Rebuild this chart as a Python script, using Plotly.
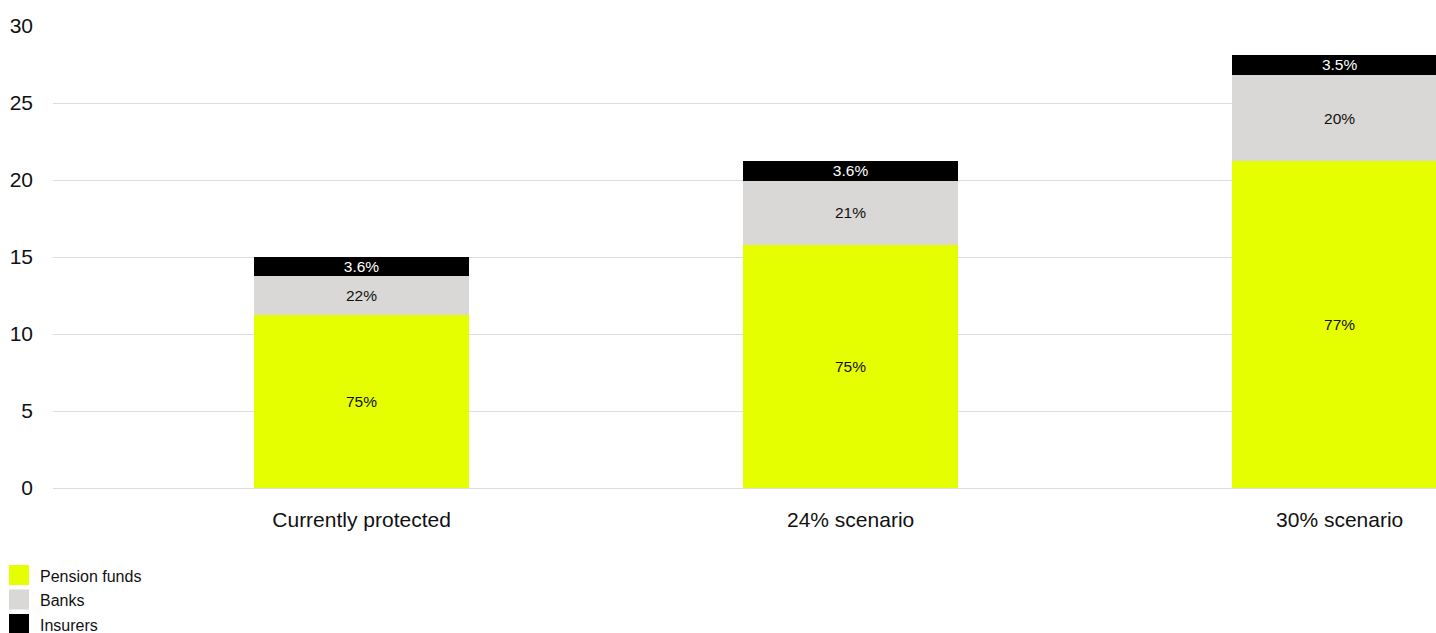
import plotly.graph_objects as go

# Protected amounts by scenario, stacked by holder type
categories = ["Currently protected", "24% scenario", "30% scenario"]
series_names = ["Pension funds", "Banks", "Insurers"]
pension_funds = [11.23, 15.78, 21.23]
banks = [2.54, 4.16, 5.59]
insurers = [1.25, 1.30, 1.30]

# Share labels shown on each segment
pension_labels = ["75%", "75%", "77%"]
bank_labels = ["22%", "21%", "20%"]
insurer_labels = ["3.6%", "3.6%", "3.5%"]

y_ticks = [0, 5, 10, 15, 20, 25, 30]

colors = ["#E6FF00", "#D9D8D6", "#000000"]
text_colors = ["#111111", "#111111", "#FFFFFF"]
values = [pension_funds, banks, insurers]
labels = [pension_labels, bank_labels, insurer_labels]

FONT = "Liberation Sans, Arial, sans-serif"

fig = go.Figure()
for name, vals, lab, col, tcol in zip(series_names, values, labels, colors, text_colors):
    fig.add_trace(go.Bar(
        x=categories, y=vals, name=name,
        marker=dict(color=col, line=dict(width=0)),
        width=0.44,
        text=lab, textposition="inside", insidetextanchor="middle",
        constraintext="none",
        textfont=dict(family=FONT, size=15.5, color=tcol),
        hoverinfo="skip", showlegend=False,
    ))

# Legend drawn as swatches and labels below the plot area
shapes = []
annotations = []
for i, (name, col) in enumerate(zip(series_names, colors)):
    top = 77 + i * 24.5
    shapes.append(dict(
        type="rect", xref="paper", yref="paper",
        xsizemode="pixel", ysizemode="pixel",
        xanchor=0, yanchor=0,
        x0=-44, x1=-24, y0=-(top + 20), y1=-top,
        fillcolor=col, line=dict(width=0),
    ))
    annotations.append(dict(
        xref="paper", yref="paper", x=0, y=0,
        xshift=-15, yshift=-(top + 11),
        xanchor="left", yanchor="middle",
        text=name, showarrow=False,
        font=dict(family=FONT, size=16, color="#111111"),
    ))

fig.update_layout(
    barmode="stack",
    width=1436, height=633,
    margin=dict(l=53, r=0, t=26, b=145, pad=0),
    paper_bgcolor="white", plot_bgcolor="white",
    font=dict(family=FONT, color="#111111"),
    shapes=shapes, annotations=annotations,
    xaxis=dict(
        type="category", range=[-0.631, 2.197],
        showgrid=False, showline=False, zeroline=False, ticks="",
        tickfont=dict(family=FONT, size=21, color="#111111"),
        ticklabelstandoff=17,
    ),
    yaxis=dict(
        range=[0, 30], tickvals=y_ticks,
        showgrid=True, gridcolor="#DDDDDD", gridwidth=1,
        zeroline=True, zerolinecolor="#DDDDDD", zerolinewidth=1,
        showline=False, ticks="",
        tickfont=dict(family=FONT, size=21, color="#111111"),
        ticklabelstandoff=19,
    ),
)

fig.write_html("out.html")
